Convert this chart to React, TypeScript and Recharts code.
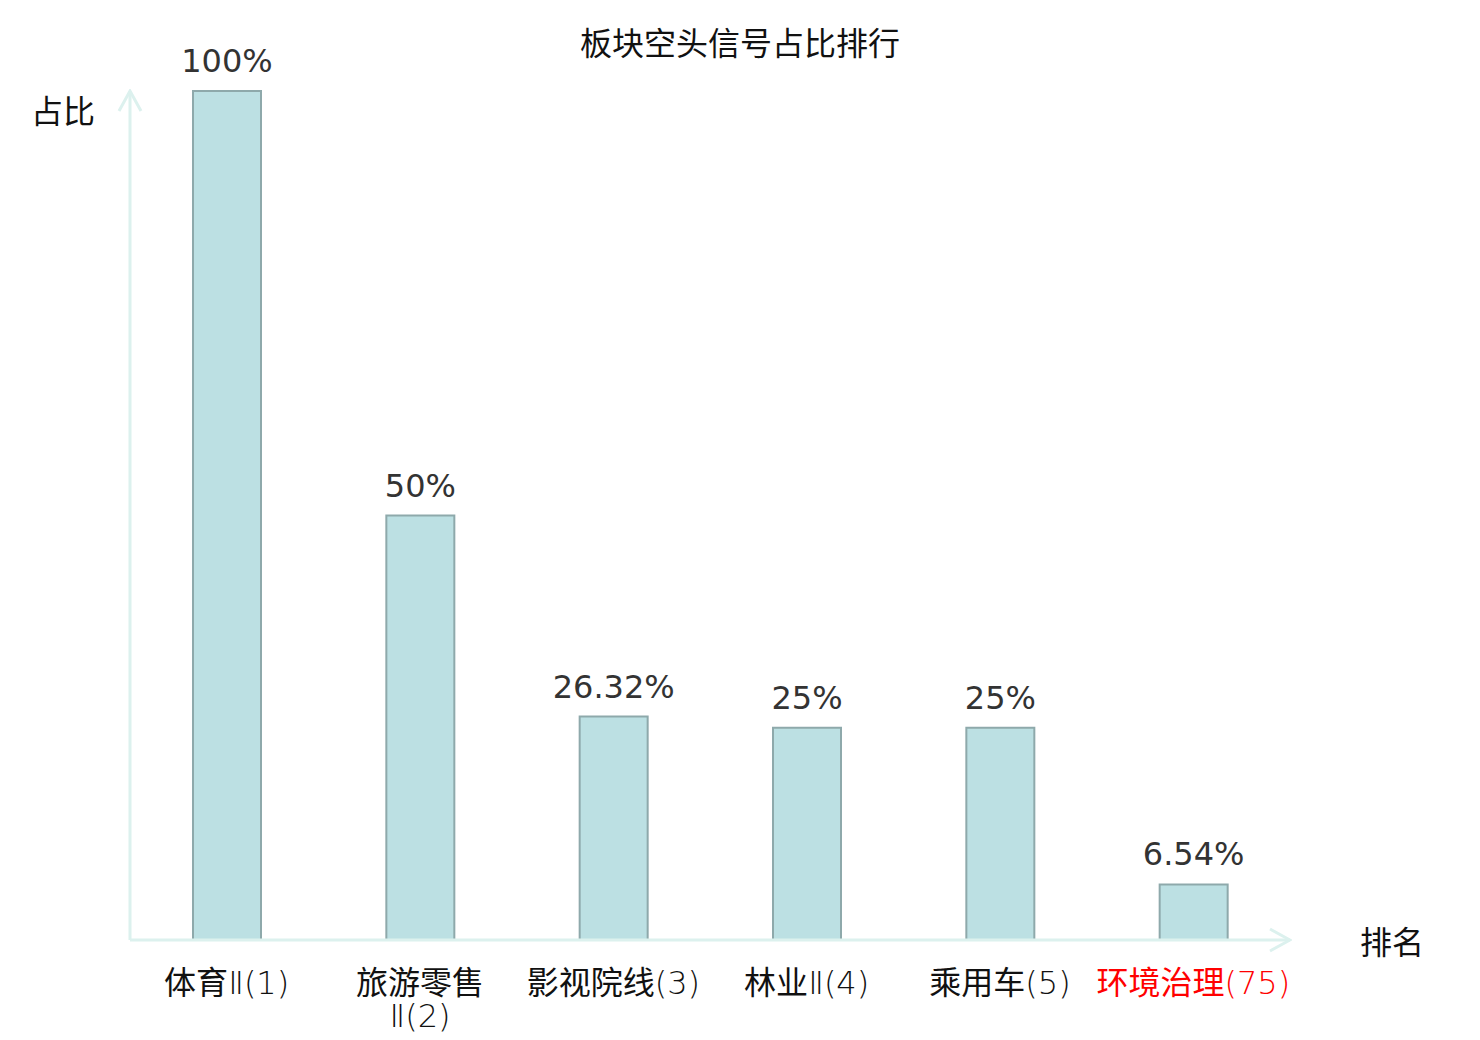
import React from "react";
import { BarChart, Bar, XAxis, YAxis, LabelList } from "recharts";

// sector names, their rank and the share of short signals (%)
const SECTORS = ["体育Ⅱ", "旅游零售Ⅱ", "影视院线", "林业Ⅱ", "乘用车", "环境治理"];
const RANKS = [1, 2, 3, 4, 5, 75];
const SHARES = [100, 50, 26.32, 25, 25, 6.54];
const FOCUS_SECTOR = "环境治理";

const TITLE = "板块空头信号占比排行";
const Y_NAME = "占比";
const X_NAME = "排名";

const data = SECTORS.map((name, i) => ({ name, rank: RANKS[i], share: SHARES[i] }));

const CJK_FONT = '"Noto Sans CJK SC", "Noto Sans", sans-serif';
const LATIN_FONT = '"DejaVu Sans", sans-serif';
const AXIS_COLOR = "#dcf1ee";

const isCjk = (s: string) => /[\u4e00-\u9fff]/.test(s);
const splitRuns = (s: string) => s.match(/[\u4e00-\u9fff]+|[^\u4e00-\u9fff]+/g) || [];

const CategoryTick = (props: any) => {
  const { x, y, payload } = props;
  const name: string = payload.value;
  const row = data.find((d) => d.name === name);
  const lines: string[] = [];
  for (let i = 0; i < name.length; i += 4) lines.push(name.slice(i, i + 4));
  lines[lines.length - 1] += `(${row ? row.rank : ""})`;
  const color = name === FOCUS_SECTOR ? "#f00" : "#111";
  return (
    <text x={x} y={y} textAnchor="middle" fill={color} fontSize={32}>
      {lines.map((line, li) => (
        <tspan key={li} x={x} y={y + 54 + li * 33}>
          {splitRuns(line).map((run, ri) =>
            isCjk(run) ? (
              <tspan key={ri} fontFamily={CJK_FONT}>
                {run}
              </tspan>
            ) : (
              <tspan key={ri} fontFamily={LATIN_FONT} fontWeight={200}>
                {run}
              </tspan>
            )
          )}
        </tspan>
      ))}
    </text>
  );
};

const textStyle: React.CSSProperties = {
  position: "absolute",
  transform: "translate(-50%, -50%)",
  fontFamily: CJK_FONT,
  fontSize: 32,
  lineHeight: 1,
  color: "#111",
  whiteSpace: "nowrap",
};

export default function App() {
  return (
    <div style={{ position: "absolute", left: 0, top: 0, width: 1480, height: 1040, background: "#fff" }}>
      <BarChart
        width={1480}
        height={1040}
        data={data}
        margin={{ top: 91, right: 190, bottom: 10, left: 129 }}
      >
        <defs>
          <marker
            id="axisArrow"
            viewBox="-2 -2 24 26"
            refX={20}
            refY={11}
            markerWidth={24}
            markerHeight={26}
            markerUnits="userSpaceOnUse"
            orient="auto-start-reverse"
          >
            <path d="M0,0 L20,11 L0,22" fill="none" stroke={AXIS_COLOR} strokeWidth={3} />
          </marker>
        </defs>
        <XAxis
          dataKey="name"
          height={90}
          interval={0}
          tickLine={false}
          tickSize={0}
          tickMargin={0}
          tick={<CategoryTick />}
          axisLine={{ stroke: AXIS_COLOR, strokeWidth: 3, markerEnd: "url(#axisArrow)" }}
        />
        <YAxis
          width={1}
          domain={[0, 100]}
          tick={false}
          tickLine={false}
          axisLine={{ stroke: AXIS_COLOR, strokeWidth: 3, markerStart: "url(#axisArrow)" }}
        />
        <Bar
          dataKey="share"
          fill="#bce0e3"
          stroke="#8ea9ab"
          strokeWidth={2}
          barSize={68}
          isAnimationActive={false}
        >
          <LabelList
            dataKey="share"
            position="top"
            offset={19}
            formatter={(v: any) => `${v}%`}
            fill="#333"
            fontSize={32}
            fontFamily={LATIN_FONT}
          />
        </Bar>
      </BarChart>
      <div style={{ ...textStyle, left: 740, top: 41 }}>{TITLE}</div>
      <div style={{ ...textStyle, left: 63, top: 109 }}>{Y_NAME}</div>
      <div style={{ ...textStyle, left: 1392, top: 940 }}>{X_NAME}</div>
    </div>
  );
}
